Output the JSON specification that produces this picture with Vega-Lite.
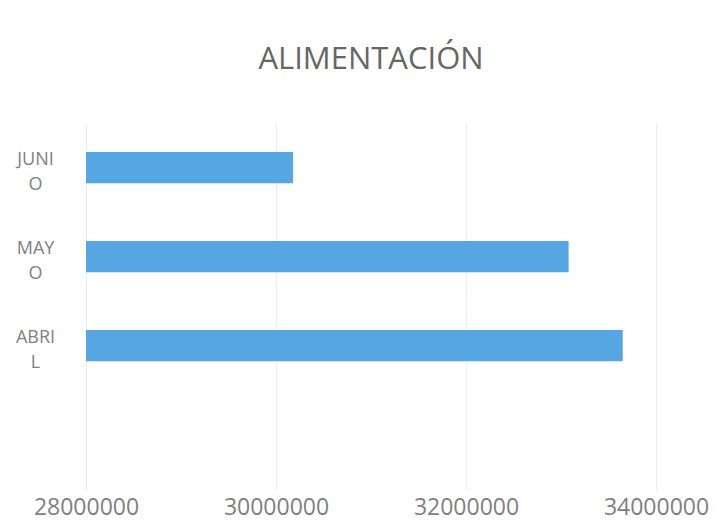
{
  "$schema": "https://vega.github.io/schema/vega-lite/v6.json",
  "width": 570,
  "height": 367,
  "autosize": "none",
  "padding": {"left": 86, "top": 123, "right": 67, "bottom": 32},
  "background": "white",
  "title": {
    "text": "ALIMENTACIÓN",
    "font": "Open Sans",
    "fontSize": 31,
    "fontWeight": "normal",
    "color": "#666666",
    "anchor": "middle",
    "offset": 47
  },
  "data": {
    "values": [
      {"mes": "JUNIO", "valor": 30180000},
      {"mes": "MAYO", "valor": 33080000},
      {"mes": "ABRIL", "valor": 33650000}
    ]
  },
  "mark": {"type": "bar", "color": "#55a6e2", "clip": true},
  "encoding": {
    "y": {
      "field": "mes",
      "type": "nominal",
      "sort": ["JUNIO", "MAYO", "ABRIL"],
      "title": null,
      "scale": {"paddingInner": 0.65, "paddingOuter": 0.886, "align": 0.184},
      "axis": {
        "domain": false,
        "ticks": false,
        "grid": false,
        "labelExpr": "[slice(datum.value, 0, -1), slice(datum.value, -1)]",
        "labelAlign": "center",
        "labelBaseline": "middle",
        "labelOffset": -8,
        "labelPadding": 51,
        "labelFont": "Open Sans",
        "labelFontSize": 18,
        "labelColor": "#808080",
        "labelLineHeight": 25
      }
    },
    "x": {
      "field": "valor",
      "type": "quantitative",
      "title": null,
      "scale": {"domain": [28000000, 34000000], "zero": false, "nice": false},
      "axis": {
        "values": [28000000, 30000000, 32000000, 34000000],
        "format": "d",
        "domain": false,
        "ticks": false,
        "grid": true,
        "gridColor": "#ececec",
        "labelFlush": false,
        "labelOverlap": false,
        "labelFont": "Open Sans",
        "labelFontSize": 23,
        "labelColor": "#808080",
        "labelPadding": 6
      }
    }
  },
  "config": {"view": {"stroke": null}}
}
